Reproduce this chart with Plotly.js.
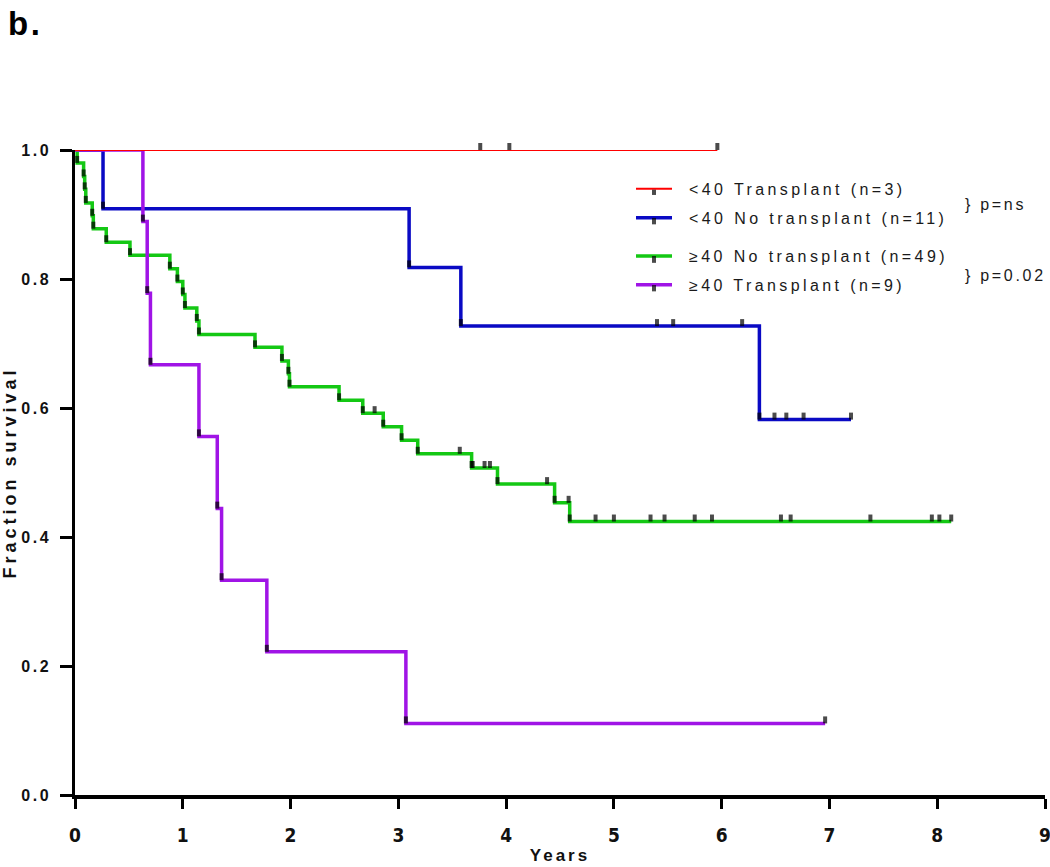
<!DOCTYPE html>
<html>
<head>
<meta charset="utf-8">
<script src="https://cdn.plot.ly/plotly-3.0.1.min.js"></script>
<style>
  html, body { margin: 0; padding: 0; background: #fff; }
  #chart { width: 1050px; height: 867px; }
  text.legendtext, text.legend2text { letter-spacing: 3.4px !important; font-size: 16px !important; transform: translateX(12px); }
  g.scrollbox { clip-path: none !important; }
  .ytick text { letter-spacing: 2.5px; }
  .g-ytitle text { letter-spacing: 4px; }
  .g-xtitle text { letter-spacing: 3px; }
  .annotation-text { letter-spacing: 2.7px; }
</style>
</head>
<body>
<div id="chart"></div>
<script>
// ---- Data (years, fraction surviving); each point after the first carries a tick ----
const seriesNames = ['<40 Transplant (n=3)', '<40 No transplant (n=11)', '≥40 No transplant (n=49)', '≥40 Transplant (n=9)'];

const redTime = [0, 3.76, 4.03, 5.96];
const redSurv = [1, 1, 1, 1];

const blueTime = [0, 0.26, 3.10, 3.58, 5.40, 5.55, 6.19, 6.35, 6.49, 6.60, 6.76, 7.20];
const blueSurv = [1, 0.909, 0.818, 0.727, 0.727, 0.727, 0.727, 0.582, 0.582, 0.582, 0.582, 0.582];

const greenTime = [0, 0.02, 0.08, 0.09, 0.10, 0.16, 0.17, 0.29, 0.51, 0.88, 0.95, 1.00, 1.02, 1.13, 1.15,
  1.67, 1.92, 1.98, 1.99, 2.45, 2.67, 2.78, 2.86, 3.03, 3.18, 3.57, 3.68, 3.69, 3.80, 3.85, 3.92,
  4.38, 4.45, 4.58, 4.59, 4.83, 5.00, 5.34, 5.47, 5.75, 5.91, 6.55, 6.64, 7.38, 7.95, 8.02, 8.13];
const greenSurv = [1, 0.980, 0.959, 0.939, 0.918, 0.898, 0.878, 0.857, 0.837, 0.816, 0.796, 0.776, 0.755, 0.735, 0.714,
  0.694, 0.673, 0.653, 0.633, 0.612, 0.592, 0.592, 0.571, 0.550, 0.529, 0.529, 0.507, 0.507, 0.507, 0.507, 0.482,
  0.482, 0.453, 0.453, 0.424, 0.424, 0.424, 0.424, 0.424, 0.424, 0.424, 0.424, 0.424, 0.424, 0.424, 0.424, 0.424];

const purpleTime = [0, 0.63, 0.67, 0.70, 1.15, 1.32, 1.36, 1.78, 3.07, 6.96];
const purpleSurv = [1, 0.889, 0.778, 0.667, 0.556, 0.444, 0.333, 0.222, 0.111, 0.111];

const xTickVals = [0, 1, 2, 3, 4, 5, 6, 7, 8, 9];
const yTickVals = [0, 0.2, 0.4, 0.6, 0.8, 1.0];
const yTickText = ['0.0', '0.2', '0.4', '0.6', '0.8', '1.0'];

// ---- Styling ----
const colors = ['#FF0000', '#0A0AC4', '#14C814', '#A014E6'];
const widths = [2, 3.5, 3.5, 3.5];
const legendIds = ['legend', 'legend', 'legend2', 'legend2'];
const times = [redTime, blueTime, greenTime, purpleTime];
const survs = [redSurv, blueSurv, greenSurv, purpleSurv];

const traces = times.map((t, i) => ({
  type: 'scatter',
  mode: 'lines+markers',
  name: seriesNames[i],
  x: t,
  y: survs[i],
  line: { shape: 'hv', color: colors[i], width: widths[i] },
  marker: {
    symbol: 'line-ns',
    size: t.map((_, j) => j === 0 ? 0 : 5),
    angle: 180,
    standoff: 3.5,
    color: '#000',
    line: { color: '#000', width: 4 }
  },
  cliponaxis: false,
  legend: legendIds[i],
  legendgroup: 'g' + i,
  legendrank: i + 1,
  hoverinfo: 'x+y+name'
}));

// draw red on top; legend order set by legendrank
const ordered = [traces[1], traces[2], traces[3], traces[0]];

const legendFont = { family: 'Liberation Sans, Arial, sans-serif', size: 16, color: '#1a1a1a' };
const numFont = 'DejaVu Sans Condensed, Liberation Sans Narrow, Arial Narrow, sans-serif';

const layout = {
  width: 1050,
  height: 867,
  margin: { l: 75, r: 5, t: 150, b: 72 },
  paper_bgcolor: '#fff',
  plot_bgcolor: '#fff',
  showlegend: true,
  xaxis: {
    range: [0, 9],
    tickvals: xTickVals,
    ticks: 'outside',
    ticklen: 10,
    tickwidth: 2.5,
    tickcolor: '#000',
    showline: true,
    linecolor: '#000',
    linewidth: 3.5,
    showgrid: false,
    zeroline: false,
    ticklabelstandoff: 10,
    ticklabeloverflow: 'allow',
    tickfont: { family: numFont, size: 19, weight: 'bold', color: '#111' },
    title: { text: 'Years', standoff: 6, font: { family: 'Liberation Sans, Arial, sans-serif', size: 17, weight: 'bold', color: '#111' } }
  },
  yaxis: {
    range: [0, 1.0],
    tickvals: yTickVals,
    ticktext: yTickText,
    ticks: 'outside',
    ticklen: 12,
    tickwidth: 2.5,
    tickcolor: '#000',
    showline: true,
    linecolor: '#000',
    linewidth: 2.5,
    showgrid: false,
    zeroline: false,
    ticklabelstandoff: 6,
    ticklabeloverflow: 'allow',
    tickfont: { family: 'Liberation Sans, Arial, sans-serif', size: 16, weight: 'bold', color: '#111' },
    title: { text: 'Fraction survival', standoff: 12, font: { family: 'Liberation Sans, Arial, sans-serif', size: 18, weight: 'bold', color: '#111' } }
  },
  legend: {
    x: 0.5732, y: 0.966, xanchor: 'left', yanchor: 'top',
    font: legendFont, bgcolor: 'rgba(0,0,0,0)', borderwidth: 0,
    tracegroupgap: 5, itemwidth: 36, traceorder: 'grouped'
  },
  legend2: {
    x: 0.5732, y: 0.862, xanchor: 'left', yanchor: 'top',
    font: legendFont, bgcolor: 'rgba(0,0,0,0)', borderwidth: 0,
    tracegroupgap: 5, itemwidth: 36, traceorder: 'grouped'
  },
  annotations: [
    { text: '<b>b.</b>', xref: 'paper', yref: 'paper', x: -0.071, y: 1.196, xanchor: 'left', yanchor: 'middle', showarrow: false,
      font: { family: 'Liberation Sans, Arial, sans-serif', size: 33, color: '#000' } },
    { text: '} p=ns', xref: 'paper', yref: 'paper', x: 0.915, y: 0.915, xanchor: 'left', yanchor: 'middle', showarrow: false,
      font: legendFont },
    { text: '} p=0.02', xref: 'paper', yref: 'paper', x: 0.915, y: 0.806, xanchor: 'left', yanchor: 'middle', showarrow: false,
      font: legendFont }
  ]
};

Plotly.newPlot('chart', ordered, layout, { displayModeBar: false });
</script>
</body>
</html>
